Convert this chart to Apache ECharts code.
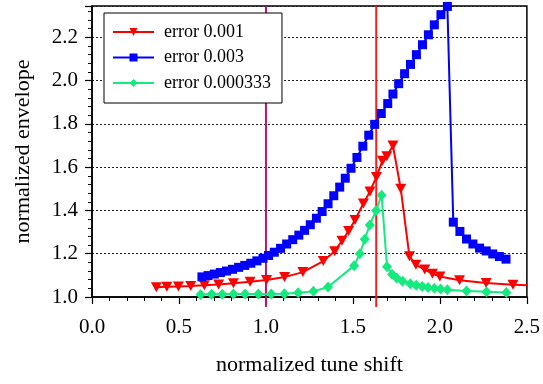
<!DOCTYPE html>
<html>
<head>
<meta charset="utf-8">
<script src="https://cdn.jsdelivr.net/npm/echarts@6/dist/echarts.min.js"></script>
<style>
html,body{margin:0;padding:0;background:#fff;}
#chart{width:543px;height:384px;}
</style>
</head>
<body>
<div id="chart"></div>
<script>
// ---- data ----
const seriesNames = ['error 0.001', 'error 0.003', 'error 0.000333'];

const redX = [0.37,0.43,0.497,0.568,0.646,0.728,0.813,0.909,1.003,1.107,1.212,1.33,1.395,1.437,1.475,1.512,1.56,1.598,1.635,1.67,1.695,1.73,1.775,1.825,1.862,1.913,1.957,2.0,2.113,2.266,2.42,2.57];
const redY = [1.045,1.047,1.049,1.051,1.054,1.058,1.064,1.071,1.079,1.092,1.115,1.166,1.212,1.26,1.305,1.356,1.432,1.488,1.555,1.63,1.65,1.70,1.50,1.188,1.149,1.127,1.108,1.095,1.077,1.065,1.057,1.052];

const blueX = [0.632,0.667,0.703,0.738,0.773,0.808,0.843,0.878,0.913,0.948,0.983,1.015,1.048,1.084,1.119,1.154,1.189,1.222,1.255,1.29,1.323,1.357,1.39,1.424,1.456,1.489,1.523,1.557,1.591,1.625,1.663,1.700,1.730,1.763,1.797,1.831,1.865,1.900,1.934,1.968,2.006,2.043,2.077,2.115,2.153,2.19,2.228,2.266,2.304,2.342,2.38];
const blueY = [1.093,1.099,1.106,1.113,1.12,1.128,1.137,1.146,1.156,1.167,1.179,1.192,1.207,1.225,1.245,1.265,1.286,1.308,1.334,1.364,1.395,1.431,1.468,1.508,1.549,1.595,1.645,1.697,1.748,1.798,1.848,1.894,1.938,1.986,2.032,2.075,2.120,2.166,2.212,2.258,2.305,2.343,1.346,1.303,1.268,1.245,1.226,1.213,1.199,1.187,1.175];

const greenX = [0.624,0.687,0.749,0.813,0.880,0.956,1.030,1.106,1.185,1.273,1.357,1.507,1.54,1.568,1.597,1.633,1.665,1.696,1.725,1.752,1.785,1.83,1.864,1.898,1.932,1.968,2.004,2.043,2.153,2.268,2.382];
const greenY = [1.011,1.013,1.013,1.014,1.014,1.014,1.014,1.015,1.02,1.026,1.046,1.145,1.20,1.267,1.333,1.40,1.47,1.14,1.105,1.088,1.073,1.061,1.054,1.048,1.044,1.04,1.037,1.034,1.028,1.024,1.021];

const vLineX = [1.0, 1.634];

const xTicks = [0.0, 0.5, 1.0, 1.5, 2.0, 2.5];
const yTicks = [1.0, 1.2, 1.4, 1.6, 1.8, 2.0, 2.2];

// ---- styles ----
const colors = ['#ff0000', '#0000ff', '#14ea7e'];
const vLineColors = ['#c0136b', '#ff1a1a'];
const FONT = 'Liberation Serif';
const xMin = 0, xMax = 2.5, yMin = 1.0, yMax = 2.345;

function zip(a, b) { return a.map((v, i) => [v, b[i]]); }

const downTri = 'path://M0,0 L10,0 L5,9 Z';

const chart = echarts.init(document.getElementById('chart'), null, {renderer: 'canvas'});
chart.setOption({
  animation: false,
  backgroundColor: '#fff',
  textStyle: {fontFamily: FONT, color: '#000'},
  grid: {left: 92, right: 13, top: 6, bottom: 87, show: true, borderColor: '#000', borderWidth: 1.5, backgroundColor: 'transparent'},
  legend: {
    data: seriesNames,
    orient: 'vertical',
    left: 104, top: 13,
    padding: [10, 11, 11, 8],
    itemGap: 7.5,
    itemWidth: 41,
    itemHeight: 10,
    backgroundColor: '#fff',
    borderColor: '#000',
    borderWidth: 1,
    borderRadius: 0,
    textStyle: {fontFamily: FONT, fontSize: 18, color: '#000', lineHeight: 18, padding: [0, 0, 0, 5]}
  },
  xAxis: {
    type: 'value', min: xMin, max: xMax, interval: 0.5,
    name: 'normalized tune shift', nameLocation: 'middle', nameGap: 57,
    nameTextStyle: {fontFamily: FONT, fontSize: 22, color: '#000'},
    axisLine: {lineStyle: {color: '#000', width: 1.5}},
    axisTick: {length: 7, lineStyle: {color: '#000', width: 1.2}},
    minorTick: {show: true, splitNumber: 5, length: 4, lineStyle: {color: '#000', width: 1}},
    axisLabel: {fontFamily: FONT, fontSize: 21, color: '#000', margin: 20,
      formatter: v => xTicks.some(t => Math.abs(t - v) < 1e-9) ? v.toFixed(1) : ''},
    splitLine: {show: false}
  },
  yAxis: {
    type: 'value', min: yMin, max: yMax, interval: 0.2,
    name: 'normalized envelope', nameLocation: 'middle', nameGap: 58,
    nameTextStyle: {fontFamily: FONT, fontSize: 22, color: '#000'},
    axisLine: {lineStyle: {color: '#000', width: 1.5}},
    axisTick: {length: 7, lineStyle: {color: '#000', width: 1.2}},
    minorTick: {show: true, splitNumber: 5, length: 4, lineStyle: {color: '#000', width: 1}},
    axisLabel: {fontFamily: FONT, fontSize: 21, color: '#000', margin: 14, showMaxLabel: false,
      formatter: v => yTicks.some(t => Math.abs(t - v) < 1e-9) ? v.toFixed(1) : ''},
    splitLine: {show: true, lineStyle: {color: '#222', width: 1, type: [2, 2]}}
  },
  series: [
    {
      type: 'custom', name: 'vlines', silent: true, clip: false, z: 1,
      data: vLineX.map((x, i) => [x, i]),
      renderItem: function (params, api) {
        const x = api.value(0);
        const top = api.coord([x, yMax]);
        const bot = api.coord([x, yMin]);
        return {type: 'line', shape: {x1: top[0], y1: top[1], x2: bot[0], y2: bot[1] + 10},
          style: {stroke: vLineColors[api.value(1)], lineWidth: 2}};
      }
    },
    {
      name: seriesNames[0], type: 'line', data: zip(redX, redY), clip: true, z: 3,
      symbol: downTri, symbolSize: [11, 10], color: colors[0],
      lineStyle: {width: 2, color: colors[0]}, itemStyle: {color: colors[0]}
    },
    {
      name: seriesNames[1], type: 'line', data: zip(blueX, blueY), clip: true, z: 3,
      symbol: 'rect', symbolSize: 9, color: colors[1],
      lineStyle: {width: 2, color: colors[1]}, itemStyle: {color: colors[1]}
    },
    {
      name: seriesNames[2], type: 'line', data: zip(greenX, greenY), clip: true, z: 3,
      symbol: 'diamond', symbolSize: [10, 11], color: colors[2],
      lineStyle: {width: 2, color: colors[2]}, itemStyle: {color: colors[2]}
    }
  ]
});
</script>
</body>
</html>
